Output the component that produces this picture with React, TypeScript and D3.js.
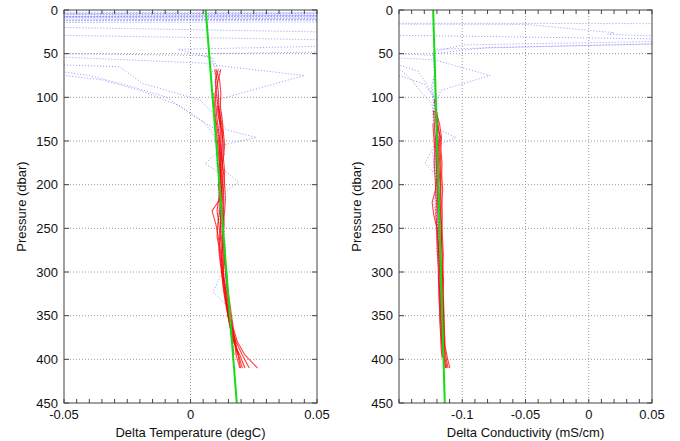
import React from 'react';
import * as d3 from 'd3';

// ---------- data ----------
const pressureTicks = [0, 50, 100, 150, 200, 250, 300, 350, 400, 450];
const tempTicks = [-0.05, 0, 0.05];
const tempTickLabels = ['-0.05', '0', '0.05'];
const condTicks = [-0.1, -0.05, 0, 0.05];
const condTickLabels = ['-0.1', '-0.05', '0', '0.05'];

const greenP = [0, 450];
const greenTemp = [0.006, 0.0183];
const greenCond = [-0.123, -0.1138];

const redTempP = [68, 80, 95, 110, 125, 140, 155, 170, 185, 200, 215, 230, 245, 260, 275, 290, 305, 320, 335, 350, 365, 380, 395, 410];
const redTemp: (number | null)[][] = [
  [0.0095, 0.0105, 0.011, 0.0112, 0.0118, 0.0122, 0.012, 0.0125, 0.0128, 0.0126, 0.013, 0.0128, 0.0133, 0.013, 0.0135, 0.0138, 0.014, 0.0145, 0.015, 0.0155, 0.0165, 0.018, 0.0205, 0.0232],
  [0.012, 0.011, 0.0098, 0.01, 0.0105, 0.0112, 0.0118, 0.0115, 0.012, 0.0118, 0.0112, 0.0105, 0.0112, 0.0118, 0.0122, 0.0128, 0.0132, 0.0138, 0.0142, 0.0148, 0.0158, 0.017, 0.0195, 0.0215],
  [null, null, null, 0.0105, 0.0112, 0.0125, 0.013, 0.0128, 0.0122, 0.0125, 0.012, 0.0085, 0.01, 0.011, 0.0118, 0.0125, 0.013, 0.0135, 0.0145, 0.0152, 0.016, 0.0175, 0.019, 0.0205],
  [0.01, 0.0115, 0.012, 0.0118, 0.0125, 0.013, 0.0135, 0.013, 0.0135, 0.0132, 0.0128, 0.013, 0.0125, 0.0128, 0.0132, 0.0135, 0.014, 0.0148, 0.0155, 0.0162, 0.017, 0.0185, 0.0215, 0.0265],
  [null, null, 0.0092, 0.0095, 0.01, 0.0108, 0.0112, 0.0118, 0.0115, 0.011, 0.0115, 0.0118, 0.012, 0.0115, 0.0112, 0.0118, 0.0125, 0.0132, 0.014, 0.0148, 0.0158, 0.0165, 0.0172, null],
  [null, null, null, null, 0.0098, 0.0102, 0.0108, 0.0112, 0.0118, 0.0122, 0.0125, 0.0122, 0.0118, 0.0122, 0.0128, 0.013, 0.0128, 0.0135, 0.0142, 0.015, 0.0165, 0.0178, 0.0185, null],
  [null, null, null, 0.011, 0.012, 0.0128, 0.0125, 0.0122, 0.013, 0.0135, 0.0138, 0.0135, 0.013, 0.0128, 0.0125, 0.0122, 0.0125, 0.013, 0.0138, 0.0148, 0.016, 0.0172, 0.0188, 0.0198],
  [0.011, 0.0098, 0.0102, 0.0108, 0.0115, 0.0118, 0.0115, 0.012, 0.0118, 0.012, 0.0122, 0.0115, 0.0108, 0.0105, 0.0115, 0.012, 0.0128, 0.014, 0.0148, 0.0158, 0.0168, 0.0175, 0.018, 0.0195],
];

const redCondP = [103, 115, 130, 145, 160, 175, 190, 205, 220, 235, 250, 265, 280, 295, 310, 325, 340, 355, 370, 385, 398, 410];
const redCond: (number | null)[][] = [
  [-0.1215, -0.1205, -0.1192, -0.1178, -0.1185, -0.1178, -0.1172, -0.1168, -0.1175, -0.117, -0.1165, -0.1162, -0.116, -0.1158, -0.1155, -0.1152, -0.115, -0.1148, -0.1145, -0.114, -0.1128, -0.1112],
  [null, -0.1228, -0.122, -0.1215, -0.121, -0.1205, -0.12, -0.121, -0.1238, -0.1225, -0.12, -0.119, -0.1185, -0.118, -0.1175, -0.1178, -0.117, -0.1165, -0.1162, -0.1155, -0.1145, -0.113],
  [-0.122, -0.121, -0.118, -0.1165, -0.1168, -0.116, -0.1162, -0.1155, -0.116, -0.1158, -0.116, -0.1155, -0.115, -0.1152, -0.1148, -0.115, -0.1146, -0.1142, -0.114, -0.1135, -0.1118, -0.1098],
  [null, null, -0.1232, -0.1225, -0.1218, -0.1222, -0.1215, -0.121, -0.1205, -0.1208, -0.1202, -0.12, -0.1195, -0.119, -0.1188, -0.1185, -0.118, -0.1178, -0.1172, -0.1168, -0.116, null],
  [null, -0.121, -0.12, -0.1192, -0.1185, -0.1188, -0.118, -0.1185, -0.1178, -0.1175, -0.1178, -0.1172, -0.1175, -0.1168, -0.1165, -0.1168, -0.116, -0.1155, -0.1158, -0.115, -0.1142, -0.1135],
  [null, null, null, -0.1208, -0.12, -0.1205, -0.1198, -0.1196, -0.1195, -0.1192, -0.119, -0.1193, -0.1186, -0.1182, -0.1185, -0.1178, -0.1175, -0.1172, -0.1166, -0.1162, -0.1152, null],
  [null, -0.1218, -0.1205, -0.1172, -0.1175, -0.117, -0.1168, -0.1172, -0.1165, -0.1168, -0.1162, -0.1165, -0.1158, -0.116, -0.1155, -0.1158, -0.1152, -0.115, -0.1146, -0.1142, -0.1136, -0.1122],
];

// blue profiles: [pressure, value]
const blueTemp: [number, number][][] = [
  [[1, -0.3], [5, 0.3], [9, -0.3], [12.5, -0.2], [32.5, 0.2], [45, -0.005], [55, 0.008], [70, 0.0105], [90, 0.0098], [107, 0.012], [125, 0.0115], [137, 0.014], [146, 0.026], [155, 0.012], [170, 0.0118], [190, 0.0125], [215, 0.0118], [240, 0.0132], [265, 0.0128], [290, 0.0138], [315, 0.0142], [340, 0.0155], [365, 0.016], [385, 0.0168]],
  [[2, 0.3], [6, -0.3], [10, 0.3], [14, -0.3], [24, -0.15], [39, 0.15], [44, 0.15], [50, 0.006], [63, 0.009], [75, 0.045], [103, 0.0105], [120, 0.0125], [140, 0.0108], [160, 0.0125], [180, 0.012], [197, 0.019], [210, 0.0128], [235, 0.0118], [260, 0.013], [285, 0.0135], [310, 0.0148], [335, 0.0145], [360, 0.0158], [380, 0.0172]],
  [[3, -0.3], [9, 0.3], [13, -0.3], [49, -0.3], [50, -0.05], [52, 0.004], [54, 0.0085], [70, 0.0115], [85, 0.0095], [100, 0.0105], [120, 0.0122], [140, 0.0112], [160, 0.0118], [176, 0.0057], [185, 0.0108], [205, 0.0122], [230, 0.0112], [255, 0.0135], [280, 0.0128], [305, 0.0145], [330, 0.014], [355, 0.0158], [380, 0.0165]],
  [[2, -0.3], [8, 0.3], [14, -0.3], [53, -0.3], [54, -0.05], [61, 0.0065], [75, 0.0098], [95, 0.0112], [115, 0.0102], [135, 0.0125], [155, 0.013], [175, 0.0112], [195, 0.0128], [220, 0.0135], [245, 0.0122], [270, 0.014], [295, 0.0132], [323, 0.009], [340, 0.0148], [365, 0.0162], [390, 0.017]],
  [[4, 0.3], [10, -0.3], [62, -0.3], [63, -0.05], [65, -0.028], [84, -0.019], [103, 0.0037], [118, 0.009], [135, 0.0105], [150, 0.0095], [170, 0.0128], [190, 0.0108], [210, 0.0115], [235, 0.0128], [260, 0.0118], [285, 0.0132], [310, 0.0138], [335, 0.015], [360, 0.0152], [385, 0.0165]],
  [[1, 0.3], [7, -0.3], [12, 0.3], [16, -0.3], [70, -0.3], [71, -0.05], [75, -0.04], [88, -0.023], [100, -0.0093], [119, 0.0], [135, 0.009], [150, 0.0115], [165, 0.0135], [185, 0.0118], [205, 0.0108], [225, 0.0125], [250, 0.0132], [275, 0.0125], [300, 0.0145], [325, 0.0135], [350, 0.0152], [375, 0.0168]],
  [[5, 0.3], [11, -0.3], [74, -0.3], [75, -0.05], [80, -0.035], [92, -0.02], [110, -0.004], [128, 0.005], [140, 0.0085], [155, 0.011], [175, 0.0102], [200, 0.0118], [225, 0.0108], [250, 0.012], [275, 0.0138], [300, 0.0128], [320, 0.0145]],
];

const blueCond: [number, number][][] = [
  [[0, -0.6], [14, -0.6], [17, 0.6], [36, 0.6], [37, 0.1], [45, -0.122], [60, -0.1215], [80, -0.1225], [100, -0.1205], [120, -0.1195], [135, -0.121], [146, -0.105], [155, -0.1195], [175, -0.1185], [200, -0.12], [225, -0.1185], [250, -0.1175], [275, -0.1185], [300, -0.117], [325, -0.1175], [350, -0.1155], [375, -0.116], [395, -0.115]],
  [[0, -0.6], [15, -0.6], [16.5, -0.05], [26, 0.02], [28, 0.015], [30, 0.06], [31, 0.6], [35, 0.6], [36.2, 0.05], [40, -0.1], [48, -0.123], [65, -0.1225], [85, -0.121], [105, -0.1225], [125, -0.1195], [150, -0.1205], [176, -0.1295], [190, -0.12], [215, -0.1195], [240, -0.1175], [265, -0.118], [290, -0.1165], [315, -0.118], [340, -0.1162], [365, -0.1155], [390, -0.1152]],
  [[0, -0.6], [27, -0.6], [29, -0.15], [33, 0.05], [34, 0.6], [38, 0.6], [39, 0.05], [43, -0.08], [50, -0.123], [70, -0.121], [90, -0.1235], [110, -0.121], [130, -0.1185], [150, -0.122], [170, -0.1205], [195, -0.1185], [220, -0.1225], [245, -0.12], [270, -0.119], [295, -0.1175], [320, -0.1178], [345, -0.1148], [370, -0.1165]],
  [[0, -0.6], [48, -0.6], [50, -0.15], [52, -0.123], [56, -0.1225], [70, -0.1215], [88, -0.1245], [108, -0.1225], [128, -0.1205], [150, -0.1192], [170, -0.1215], [190, -0.1198], [212, -0.1212], [235, -0.1195], [260, -0.1185], [285, -0.1195], [310, -0.1178], [335, -0.1185], [360, -0.1168], [385, -0.1158]],
  [[0, -0.6], [53, -0.6], [55, -0.15], [57, -0.122], [75, -0.078], [92, -0.117], [110, -0.1215], [130, -0.1205], [150, -0.1178], [170, -0.119], [190, -0.1175], [210, -0.1205], [235, -0.119], [260, -0.1198], [285, -0.1178], [310, -0.1162], [335, -0.117], [360, -0.1158]],
  [[0, -0.6], [61, -0.6], [63, -0.15], [70, -0.135], [85, -0.128], [103, -0.1215], [125, -0.1225], [145, -0.121], [165, -0.1235], [185, -0.121], [205, -0.1192], [230, -0.1205], [255, -0.1188], [280, -0.1175], [305, -0.119], [330, -0.117], [355, -0.1178], [380, -0.1162]],
  [[0, -0.6], [65, -0.6], [67, -0.15], [80, -0.14], [95, -0.132], [107, -0.124], [125, -0.1218], [145, -0.1188], [165, -0.1202], [185, -0.1215], [205, -0.1178], [225, -0.1192], [250, -0.1208], [275, -0.119], [300, -0.1182], [325, -0.1192], [350, -0.1165]],
  [[0, -0.6], [73, -0.6], [75, -0.15], [85, -0.13], [100, -0.122], [120, -0.1235], [140, -0.1215], [160, -0.12], [180, -0.1228], [200, -0.1205], [225, -0.121], [250, -0.1195], [275, -0.1205], [300, -0.1178], [325, -0.118], [350, -0.1172], [375, -0.1168]],
];

// ---------- drawing ----------
const FONT = '"Liberation Sans", Arial, Helvetica, sans-serif';

type PanelProps = {
  id: string;
  left: number;
  right: number;
  top: number;
  bottom: number;
  xDomain: [number, number];
  minorStep: number;
  xTicks: number[];
  xTickLabels: string[];
  xTitle: string;
  redP: number[];
  red: (number | null)[][];
  blue: [number, number][][];
  greenV: number[];
};

function Panel(props: PanelProps) {
  const { id, left, right, top, bottom, xDomain, minorStep, xTicks, xTickLabels, xTitle, redP, red, blue, greenV } = props;
  const x = d3.scaleLinear().domain(xDomain).range([left, right]);
  const y = d3.scaleLinear().domain([0, 450]).range([top, bottom]);
  const line = d3
    .line<[number, number | null]>()
    .defined((d) => d[1] != null)
    .x((d) => x(d[1] as number))
    .y((d) => y(d[0]));

  const nMinor = Math.round((xDomain[1] - xDomain[0]) / minorStep);
  const minor = d3.range(nMinor + 1).map((i) => xDomain[0] + i * minorStep);
  const tl = 4;

  return (
    <g>
      <defs>
        <clipPath id={id}>
          <rect x={left} y={top} width={right - left} height={bottom - top} />
        </clipPath>
      </defs>
      {/* grid */}
      <g stroke="#9a9a9a" strokeWidth={1} strokeDasharray="1,2">
        {xTicks.filter((t) => x(t) > left + 1 && x(t) < right - 1).map((t, i) => (
          <line key={'gx' + i} x1={x(t)} x2={x(t)} y1={top} y2={bottom} />
        ))}
        {pressureTicks.filter((p) => p > 0 && p < 450).map((p, i) => (
          <line key={'gy' + i} x1={left} x2={right} y1={y(p)} y2={y(p)} />
        ))}
      </g>
      <g clipPath={`url(#${id})`} fill="none">
        {blue.map((prof, i) => (
          <path key={'b' + i} d={line(prof) || ''} stroke="#6a6af5" strokeOpacity={0.7} strokeWidth={1} strokeDasharray="1,2" />
        ))}
        {red.map((vals, i) => (
          <path
            key={'r' + i}
            d={line(redP.map((p, j) => [p, vals[j]] as [number, number | null])) || ''}
            stroke="#ff0000"
            strokeOpacity={0.75}
            strokeWidth={1.1}
          />
        ))}
        <path d={line(greenP.map((p, j) => [p, greenV[j]] as [number, number])) || ''} stroke="#13dd13" strokeWidth={2} />
      </g>
      {/* frame */}
      <rect x={left} y={top} width={right - left} height={bottom - top} fill="none" stroke="#444" strokeWidth={1} />
      {/* ticks */}
      <g stroke="#444" strokeWidth={1}>
        {minor.map((v, i) => (
          <g key={'mt' + i}>
            <line x1={x(v)} x2={x(v)} y1={bottom} y2={bottom - tl} />
            <line x1={x(v)} x2={x(v)} y1={top} y2={top + tl} />
          </g>
        ))}
        {pressureTicks.map((p, i) => (
          <g key={'yt' + i}>
            <line x1={left} x2={left + tl + 1} y1={y(p)} y2={y(p)} />
            <line x1={right} x2={right - tl - 1} y1={y(p)} y2={y(p)} />
          </g>
        ))}
      </g>
      {/* labels */}
      <g fontFamily={FONT} fontSize={13} fill="#111">
        {pressureTicks.map((p, i) => (
          <text key={'yl' + i} x={left - 6} y={y(p) + 4.5} textAnchor="end">
            {String(p)}
          </text>
        ))}
        {xTicks.map((t, i) => (
          <text key={'xl' + i} x={x(t)} y={bottom + 16} textAnchor="middle">
            {xTickLabels[i]}
          </text>
        ))}
        <text x={(left + right) / 2} y={bottom + 34} textAnchor="middle">
          {xTitle}
        </text>
        <text
          transform={`translate(${left - 38},${(top + bottom) / 2}) rotate(-90)`}
          textAnchor="middle"
        >
          Pressure (dbar)
        </text>
      </g>
    </g>
  );
}

export default function App() {
  return (
    <svg
      width={680}
      height={441}
      style={{ position: 'absolute', left: 0, top: 0, background: '#fff' }}
    >
      <rect x={0} y={0} width={680} height={441} fill="#fff" />
      <Panel
        id="clipT"
        left={64}
        right={317}
        top={10}
        bottom={403}
        xDomain={[-0.05, 0.05]}
        minorStep={0.005}
        xTicks={tempTicks}
        xTickLabels={tempTickLabels}
        xTitle="Delta Temperature (degC)"
        redP={redTempP}
        red={redTemp}
        blue={blueTemp}
        greenV={greenTemp}
      />
      <Panel
        id="clipC"
        left={399}
        right={652}
        top={10}
        bottom={403}
        xDomain={[-0.15, 0.05]}
        minorStep={0.01}
        xTicks={condTicks}
        xTickLabels={condTickLabels}
        xTitle="Delta Conductivity (mS/cm)"
        redP={redCondP}
        red={redCond}
        blue={blueCond}
        greenV={greenCond}
      />
    </svg>
  );
}
